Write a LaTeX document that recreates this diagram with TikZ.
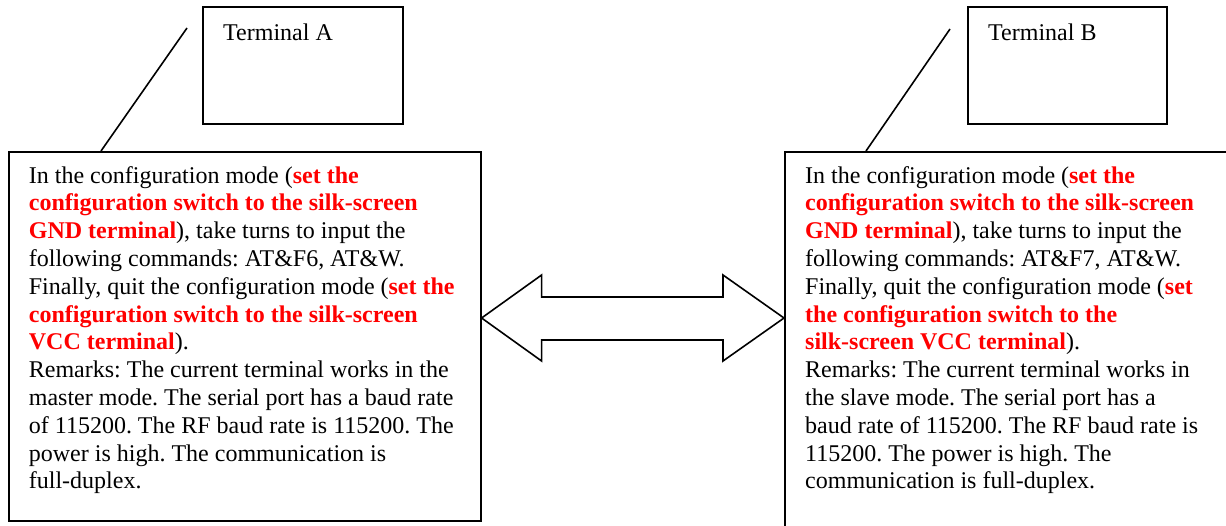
\documentclass[tikz,border=0pt]{standalone}
\usepackage{fontspec}
\setmainfont{Liberation Serif}
\usetikzlibrary{calc,positioning}
\definecolor{tbInk}{HTML}{000000}
\definecolor{tbRed}{HTML}{FF0000}
\newcommand{\redkey}[1]{\textcolor{tbRed}{\textbf{#1}}}
\frenchspacing
\tikzset{
  termbox/.style={draw=tbInk, line width=1.6pt, minimum width=200pt, minimum height=117pt, inner sep=0pt, anchor=north west},
  cfgbox/.style={draw=tbInk, line width=1.6pt, inner sep=0pt, anchor=north west},
  boxtxt/.style={inner sep=0pt, anchor=north west, align=left, font=\fontsize{24}{27.8}\selectfont, text=tbInk},
  callout/.style={draw=tbInk, line width=1.6pt},
  dblarr/.style={draw=tbInk, line width=1.6pt, line join=miter},
}

\begin{document}
\begin{tikzpicture}[x=1pt, y=-1pt]
  \useasboundingbox (0,0) rectangle (1226,525);
  % terminal A side
  \node[termbox] (termA) at (202,6) {};
  \node[boxtxt, below right=17.6pt and 21pt of termA.north west, anchor=north west] (termAtxt) {Terminal A};
  \node[cfgbox, minimum width=472pt, minimum height=369pt] (cfgA) at (8,151) {};
  \node[boxtxt, below right=15pt and 20.7pt of cfgA.north west, anchor=north west] (cfgAtxt) {In the configuration mode (\redkey{set the}\\
\redkey{configuration switch to the silk-screen}\\
\redkey{GND terminal}), take turns to input the\\
following commands: AT\&F6, AT\&W.\\
Finally, quit the configuration mode (\redkey{set the}\\
\redkey{configuration switch to the silk-screen}\\
\redkey{VCC terminal}).\\
Remarks: The current terminal works in the\\
master mode. The serial port has a baud rate\\
of 115200. The RF baud rate is 115200. The\\
power is high. The communication is\\
full-duplex.};
  \coordinate (tailA) at (187,28);
  \draw[callout] (tailA) -- ($(cfgA.north west)+(93,0)$);
  % terminal B side
  \node[termbox, minimum width=199pt] (termB) at (967,6) {};
  \node[boxtxt, below right=17.6pt and 21pt of termB.north west, anchor=north west] (termBtxt) {Terminal B};
  \node[cfgbox, minimum width=460pt, minimum height=400pt] (cfgB) at (784,151) {};
  \node[boxtxt, below right=15pt and 21pt of cfgB.north west, anchor=north west] (cfgBtxt) {In the configuration mode (\redkey{set the}\\
\redkey{configuration switch to the silk-screen}\\
\redkey{GND terminal}), take turns to input the\\
following commands: AT\&F7, AT\&W.\\
Finally, quit the configuration mode (\redkey{set}\\
\redkey{the configuration switch to the}\\
\redkey{silk-screen VCC terminal}).\\
Remarks: The current terminal works in\\
the slave mode. The serial port has a\\
baud rate of 115200. The RF baud rate is\\
115200. The power is high. The\\
communication is full-duplex.};
  \coordinate (tailB) at (950,29);
  \draw[callout] (tailB) -- ($(cfgB.north west)+(82,0)$);
  % double arrow between the two boxes
  \coordinate (tipL) at ($(cfgA.north east)+(0,167)$);
  \coordinate (tipR) at ($(cfgB.north west)+(0,167)$);
  \draw[dblarr] (tipL) -- ++(60,-43) -- ++(0,22) -- ($(tipR)+(-61,-21)$) -- ++(0,-22)
    -- (tipR) -- ++(-61,43) -- ++(0,-21) -- ($(tipL)+(60,22)$) -- ++(0,21) -- cycle;
\end{tikzpicture}
\end{document}
